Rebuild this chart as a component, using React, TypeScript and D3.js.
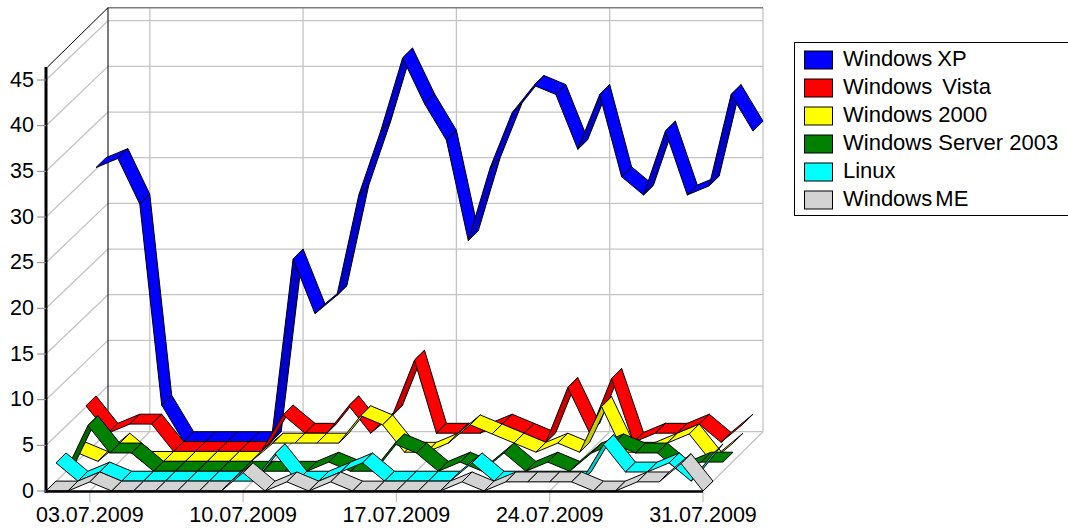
import * as d3 from 'd3';

// share of visits per day, July 2009
const startDay = '2009-07-01';
const endDay = '2009-07-31';
const tickDays = ['2009-07-03', '2009-07-10', '2009-07-17', '2009-07-24', '2009-07-31'];
const yTicks = [0, 5, 10, 15, 20, 25, 30, 35, 40, 45];

const windowsXP = [30, 31, 26, 4, 0, 0, 0, 0, 0, 20, 14, 16, 27, 34, 42, 37, 33, 22, 30, 36, 39, 38, 32, 38, 29, 27, 34, 27, 28, 38, 34];
const windowsVista = [5, 2, 3, 3, 0, 0, 0, 0, 0, 4, 2, 2, 5, 2, 4, 10, 2, 2, 2, 3, 2, 1, 7, 2, 8, 1, 2, 2, 3, 1, 3];
const windows2000 = [1, 0, 2, 0, 0, 0, 0, 0, 0, 2, 2, 2, 2, 5, 4, 1, 1, 2, 4, 3, 2, 1, 2, 1, 6, 1, 1, 2, 3, 0, 2];
const windows2003 = [0, 5, 2, 2, 0, 0, 0, 0, 0, 0, 0, 0, 1, 0, 0, 3, 2, 0, 1, 0, 2, 0, 1, 0, 2, 3, 2, 2, 0, 1, 1];
const linux = [2, 0, 1, 0, 0, 0, 0, 0, 0, 0, 3, 0, 0, 1, 2, 0, 0, 0, 0, 2, 0, 0, 0, 0, 0, 4, 1, 1, 2, 0, 3];
const windowsME = [0, 0, 1, 0, 0, 0, 0, 0, 0, 2, 0, 1, 0, 1, 0, 0, 0, 0, 0, 1, 0, 1, 1, 1, 1, 0, 0, 1, 1, 3, 0];

const seriesNames = ['Windows XP', 'Windows Vista', 'Windows 2000', 'Windows Server 2003', 'Linux', 'Windows ME'];
const seriesValues = [windowsXP, windowsVista, windows2000, windows2003, linux, windowsME];
const seriesColors = ['#0000ff', '#ff0000', '#ffff00', '#008000', '#00ffff', '#d3d3d3'];
const legendWordGaps = [-1, 4, 0, 0, 0, -3];

const parseDay = d3.utcParse('%Y-%m-%d');
const formatDay = d3.utcFormat('%d.%m.%Y');

const x = d3.scaleUtc().domain([parseDay(startDay)!, parseDay(endDay)!]).range([46, 703]);
const y = d3.scaleLinear().domain([0, 45]).range([491, 80]);
// depth of the box, one slot per series
const depthX = d3.scaleLinear().domain([0, 6]).range([0, 60]);
const depthY = d3.scaleLinear().domain([0, 6]).range([0, -59.3]);

const px = (day: Date, z: number) => x(day) + depthX(z);
const py = (v: number, z: number) => y(v) + depthY(z);

const days = windowsXP.map((_, i) => d3.utcDay.offset(parseDay(startDay)!, i));
const line = d3.line();
const gridColor = '#c4c4c4';
const font = "'Liberation Sans', Arial, sans-serif";
const topValue = y.invert(y(0) - 424);

function Ribbon({ values, z, color }: { values: number[]; z: number; color: string }) {
  const dark = d3.color(color)!.darker(0.65).formatHex();
  return (
    <g>
      {d3.pairs(values.map((v, i) => ({ v, day: days[i] }))).map(([a, b], i) => {
        const rise = py(a.v, z) - py(b.v, z);
        const run = px(b.day, z) - px(a.day, z);
        // steep climbs show the underside of the ribbon
        const underside = rise / run > -depthY(1) / depthX(1);
        const d = line([
          [px(a.day, z), py(a.v, z)],
          [px(a.day, z + 1), py(a.v, z + 1)],
          [px(b.day, z + 1), py(b.v, z + 1)],
          [px(b.day, z), py(b.v, z)],
        ]) + 'Z';
        return <path key={i} d={d} fill={underside ? dark : color} stroke="#000" strokeWidth={1} strokeLinejoin="round" />;
      })}
    </g>
  );
}

export default function App() {
  const xEnd = x.domain()[1];
  const xStart = x.domain()[0];
  const wallLeft = px(xStart, 6) + 2;
  return (
    <div style={{ position: 'fixed', left: 0, top: 0 }}>
      <svg width={1068} height={530} style={{ display: 'block', fontFamily: font }}>
        <rect width={1068} height={530} fill="#fff" />

        {/* walls and grid */}
        {yTicks.map((t) => (
          <g key={t} stroke={gridColor} strokeWidth={1.3} fill="none">
            <line x1={x(xStart)} y1={py(t, 0)} x2={wallLeft} y2={py(t, 6)} />
            <line x1={wallLeft} y1={py(t, 6)} x2={px(xEnd, 6)} y2={py(t, 6)} />
          </g>
        ))}
        {tickDays.map((t) => {
          const d = parseDay(t)!;
          return (
            <g key={t} stroke={gridColor} strokeWidth={1.3} fill="none">
              <line x1={px(d, 0)} y1={py(0, 0)} x2={px(d, 6)} y2={py(0, 6)} />
              <line x1={px(d, 6)} y1={py(0, 6)} x2={px(d, 6)} y2={py(topValue, 6)} />
              <line x1={x(d)} y1={y(0)} x2={x(d)} y2={y(0) + 11} />
            </g>
          );
        })}
        <line x1={wallLeft} y1={py(topValue, 6)} x2={px(xEnd, 6)} y2={py(topValue, 6)} stroke="#808080" strokeWidth={1.6} />
        <line x1={wallLeft} y1={py(0, 6)} x2={wallLeft} y2={py(topValue, 6)} stroke="#333" strokeWidth={1.3} />
        <line x1={x(xStart) + 1.5} y1={py(topValue, 0)} x2={wallLeft} y2={py(topValue, 6)} stroke="#000" strokeWidth={1} />

        {seriesValues.map((values, i) => (
          <Ribbon key={seriesNames[i]} values={values} z={5 - i} color={seriesColors[i]} />
        ))}

        {/* front axes */}
        <line x1={x(xStart)} y1={py(topValue, 0)} x2={x(xStart)} y2={y(0) + 1.5} stroke="#000" strokeWidth={3} />
        <line x1={x(xStart) - 1.5} y1={y(0) + 0.5} x2={x(xEnd)} y2={y(0) + 0.5} stroke="#000" strokeWidth={2.6} />
        {yTicks.map((t) => (
          <g key={t}>
            <line x1={x(xStart) - 9} y1={y(t)} x2={x(xStart)} y2={y(t)} stroke="#888" strokeWidth={1} />
            <text x={34} y={y(t) + 6.5} textAnchor="end" fontSize={21.5} fill="#000">{t}</text>
          </g>
        ))}
        {tickDays.map((t) => (
          <text key={t} x={x(parseDay(t)!)} y={522} textAnchor="middle" fontSize={21.5} fill="#000">
            {formatDay(parseDay(t)!)}
          </text>
        ))}

        {/* legend */}
        <rect x={794.5} y={42.5} width={290} height={173} fill="#fff" stroke="#000" strokeWidth={1} />
        {seriesNames.map((name, i) => (
          <g key={name} transform={`translate(0, ${28 * i})`}>
            <rect x={804.5} y={51} width={28} height={18} fill={seriesColors[i]} stroke="#000" strokeWidth={1} />
            <text x={843} y={66} fontSize={22} fill="#000" wordSpacing={legendWordGaps[i]}>{name}</text>
          </g>
        ))}
      </svg>
    </div>
  );
}
